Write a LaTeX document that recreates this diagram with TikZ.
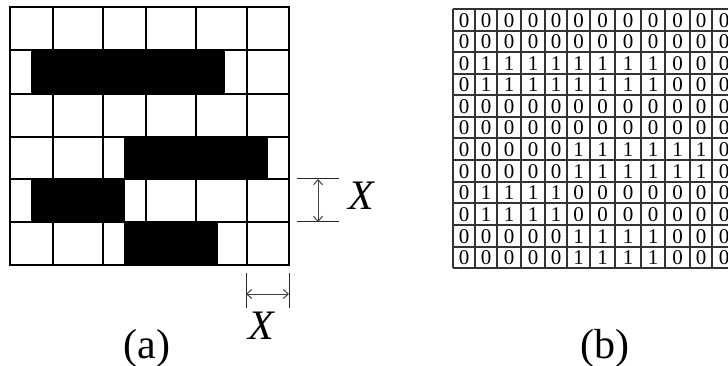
\documentclass[tikz,border=0pt]{standalone}
\usepackage{fontspec}
\setmainfont{Liberation Serif}
\usetikzlibrary{arrows.meta}
\begin{document}
\begin{tikzpicture}[x=1pt,y=-1pt,
  gridA/.style={line width=1.3pt,black},
  gridB/.style={line width=1.2pt,black!80},
  bar/.style={fill=black,draw=none},
  digit/.style={inner sep=0pt,font=\fontsize{21}{21}\selectfont},
  biglab/.style={inner sep=0pt,font=\fontsize{42}{42}\selectfont},
  extline/.style={line width=1pt,black!85},
  dimarrow/.style={line width=1pt,black!75,{Straight Barb[length=5pt,width=9pt]}-{Straight Barb[length=5pt,width=9pt]}}]
\useasboundingbox (0,0) rectangle (728,366);
\clip (0,0) rectangle (728,366);
% ---------- (a) grid ----------
\foreach \y in {50,94,137,179,222} \draw[gridA] (10,\y) -- (289,\y);
\foreach \x in {53,103,146,196,247} \draw[gridA] (\x,7) -- (\x,265);
\fill[bar] (31,50) rectangle (225,94);
\fill[bar] (124,137) rectangle (268,179);
\fill[bar] (31,179) rectangle (125,222);
\fill[bar] (124,222) rectangle (218,265);
\draw[gridA] (10,7) rectangle (289,265);
% right dimension
\coordinate (r1) at (318,179);
\coordinate (r2) at (318,222);
\draw[extline] (297,179) -- (339,179);
\draw[extline] (297,222) -- (339,222);
\draw[dimarrow] (r1) -- (r2);
\node[biglab,anchor=base west] (xr) at (348,210) {\textit{X}};
% bottom dimension
\coordinate (b1) at (246,294);
\coordinate (b2) at (289,294);
\draw[extline] (246,273) -- (246,308);
\draw[extline] (289,273) -- (289,308);
\draw[dimarrow] (b1) -- (b2);
\node[biglab,anchor=base] (xb) at (262,339) {\textit{X}};
\node[biglab,anchor=base] (la) at (147,358) {(a)};
% ---------- (b) grid ----------
\foreach \y in {9,31,52,74,95,117,138,160,182,203,225,247,268} \draw[gridB] (453,\y) -- (740,\y);
\foreach \x in {453,475,497,521,545,567,590,615,641,665,690,712,736} \draw[gridB] (\x,9) -- (\x,268);
\foreach \r/\cy/\row in {
  1/20.5/{0,0,0,0,0,0,0,0,0,0,0,0},
  2/42/{0,0,0,0,0,0,0,0,0,0,0,0},
  3/63.5/{0,1,1,1,1,1,1,1,1,0,0,0},
  4/85/{0,1,1,1,1,1,1,1,1,0,0,0},
  5/106.5/{0,0,0,0,0,0,0,0,0,0,0,0},
  6/128/{0,0,0,0,0,0,0,0,0,0,0,0},
  7/149.5/{0,0,0,0,0,1,1,1,1,1,1,0},
  8/171.5/{0,0,0,0,0,1,1,1,1,1,1,0},
  9/193/{0,1,1,1,1,0,0,0,0,0,0,0},
  10/214.5/{0,1,1,1,1,0,0,0,0,0,0,0},
  11/236.5/{0,0,0,0,0,1,1,1,1,0,0,0},
  12/258/{0,0,0,0,0,1,1,1,1,0,0,0}} {
  \foreach \v [count=\c] in \row {
    \pgfmathsetmacro\cx{{464,486,509,533,556,578.5,602.5,628,653,677.5,701,724}[\c-1]}
    \node[digit] (b-\r-\c) at (\cx,\cy) {\v};
  }
}
\node[biglab,anchor=base] (lb) at (605,358) {(b)};
\end{tikzpicture}
\end{document}
